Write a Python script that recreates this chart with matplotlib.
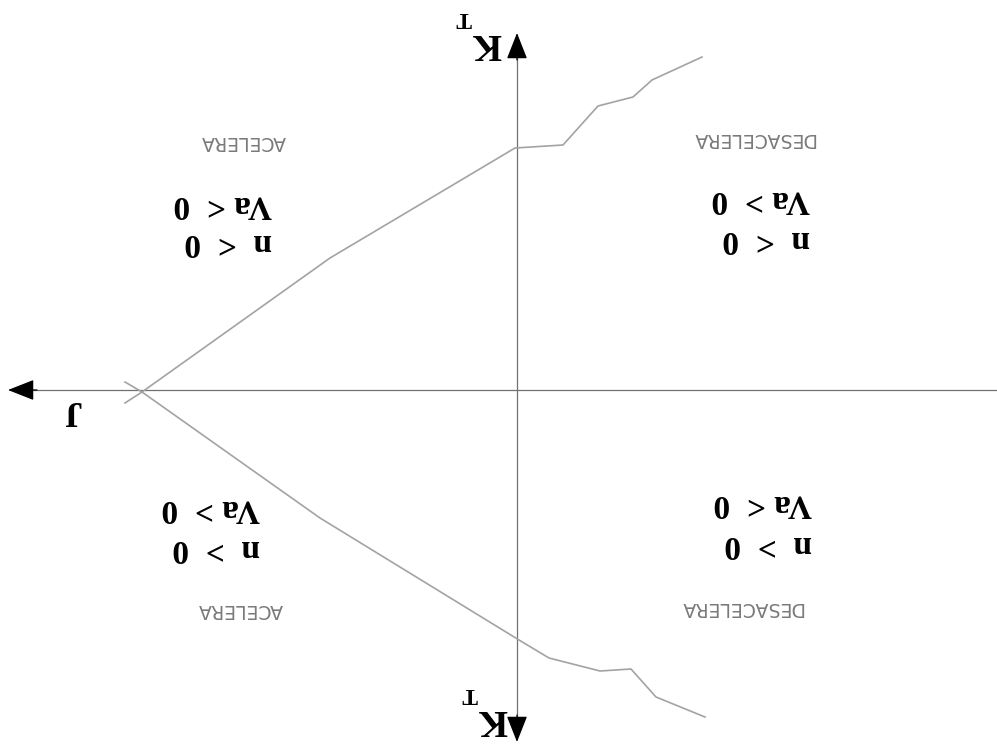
#!/usr/bin/env python3
"""Four-quadrant K_T vs J sketch (drawn upside-down, as in the scanned source)."""
import matplotlib
matplotlib.use("Agg")
import matplotlib.pyplot as plt

# curve through quadrants with n < 0 (shown on top)
J_NEG = [3.92, 3.75, 1.87, 0.02, -0.46, -0.81, -1.16, -1.35, -1.85]
KT_NEG = [0.13, 0.02, -1.32, -2.42, -2.45, -2.84, -2.93, -3.10, -3.33]
# curve through quadrants with n > 0 (shown at the bottom)
J_POS = [3.92, 3.75, 1.97, -0.02, -0.32, -0.83, -1.14, -1.39, -1.88]
KT_POS = [-0.08, 0.02, 1.28, 2.50, 2.68, 2.81, 2.79, 3.07, 3.27]

# quadrant labels: (J, KT of the n line, KT of the Va line, n text, Va text, regime)
QUADS = [
    (2.45, -1.47, -1.85, "n  <  0", "Va <  0", "ACELERA", 2.74, -2.48),
    (-2.93, -1.50, -1.90, "n  <  0", "Va >  0", "DESACELERA", -2.36, -2.51),
    (2.57, 1.58, 1.19, "n  >  0", "Va >  0", "ACELERA", 2.77, 2.20),
    (-2.95, 1.54, 1.14, "n  >  0", "Va <  0", "DESACELERA", -2.24, 2.17),
]

SERIF = ["Liberation Serif", "DejaVu Serif"]
CURVE_C = "#a3a3a3"
AXIS_C = "#707070"

fig = plt.figure(figsize=(9.97, 7.44), dpi=100)
ax = fig.add_axes([0, 0, 1, 1])
# whole sketch is rotated 180 degrees -> both axes inverted
ax.set_xlim(5.17, -4.80)
ax.set_ylim(3.54, -3.90)
ax.axis("off")

# axes
ax.plot([4.85, -4.80], [0, 0], color=AXIS_C, lw=0.9)
ax.plot([0, 0], [-3.34, 3.30], color=AXIS_C, lw=0.9)
head = dict(arrowstyle="-|>,head_length=1.65,head_width=0.65", color="black",
            lw=0.9, shrinkA=0, shrinkB=0, mutation_scale=10)
ax.annotate("", xy=(5.09, 0), xytext=(4.80, 0), arrowprops=head)
ax.annotate("", xy=(0, -3.57), xytext=(0, -3.30), arrowprops=head)
ax.annotate("", xy=(0, 3.52), xytext=(0, 3.25), arrowprops=head)

# curves
ax.plot(J_NEG, KT_NEG, color=CURVE_C, lw=1.2)
ax.plot(J_POS, KT_POS, color=CURVE_C, lw=1.2)

# axis labels
ax.text(4.46, 0.20, "J", family=SERIF, weight="bold", fontsize=26,
        rotation=180, ha="center", va="center")
for kk, tt in [(-3.46, -3.72), (3.30, 3.03)]:
    jk = 0.30 if kk < 0 else 0.24
    jt = 0.53 if kk < 0 else 0.47
    ax.text(jk, kk, "K", family=SERIF, weight="bold", fontsize=27,
            rotation=180, ha="center", va="center")
    ax.text(jt, tt, "T", family=SERIF, weight="bold", fontsize=17,
            rotation=180, ha="center", va="center")

# quadrant annotations
for jx, yn, yva, ntxt, vatxt, regime, jr, kr in QUADS:
    ax.text(jx, yn, ntxt, family=SERIF, weight="bold", fontsize=24,
            rotation=180, ha="right", va="center")
    ax.text(jx, yva, vatxt, family=SERIF, weight="bold", fontsize=24,
            rotation=180, ha="right", va="center")
    ax.text(jr, kr, regime, fontsize=13.5, color="#7a7a7a",
            rotation=180, ha="center", va="center")

fig.savefig("out.png", dpi=100)
